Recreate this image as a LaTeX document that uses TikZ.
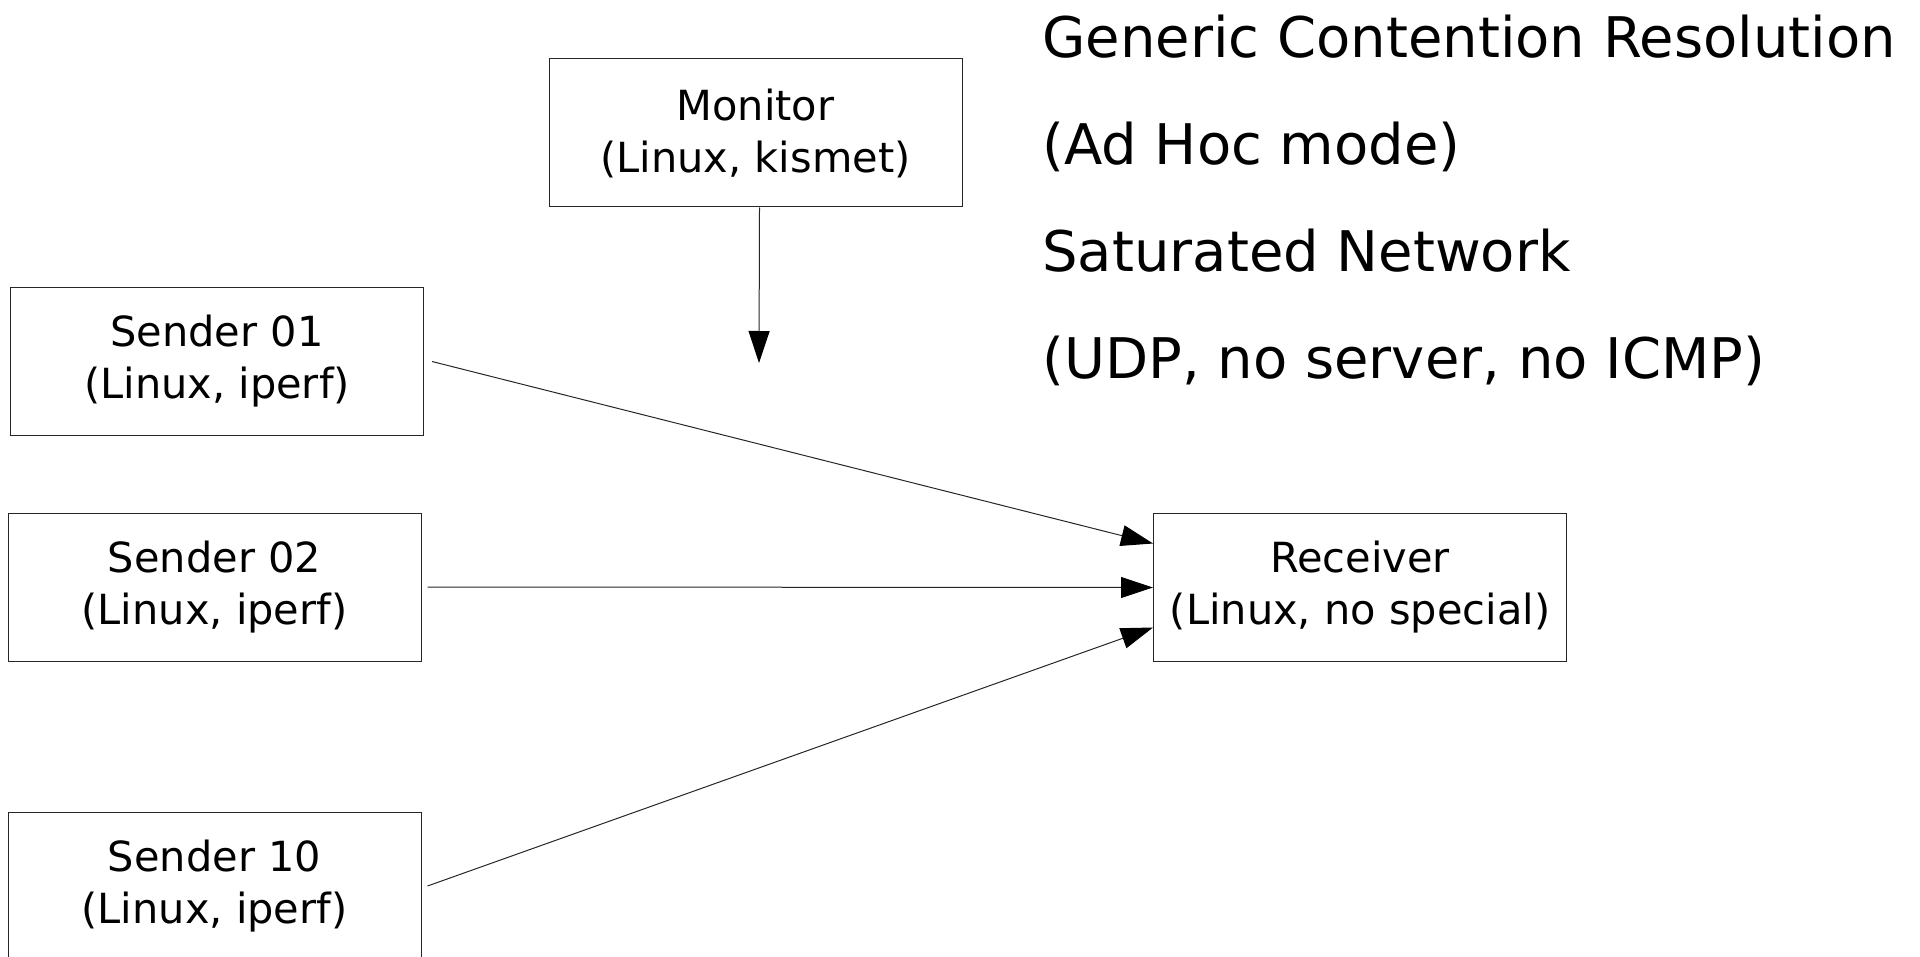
\documentclass[tikz,border=0pt]{standalone}
\usepackage{fontspec}
\setmainfont{DejaVu Sans}
\usetikzlibrary{arrows.meta}

\tikzset{
  box/.style={draw=black!85, line width=0.5pt, minimum width=206.5pt, minimum height=74pt,
    align=center, inner sep=0pt, font=\fontsize{20.75pt}{26pt}\selectfont},
  head/.style={anchor=base west, inner sep=0pt, font=\fontsize{28pt}{34pt}\selectfont},
  link/.style={draw=black!85, line width=0.5pt, -{Triangle[length=16pt,width=10.5pt,fill=black,color=black]}}
}

\begin{document}
\begin{tikzpicture}[x=0.5pt, y=-0.5pt]

        \useasboundingbox (0,0) rectangle (1920,957);

        \begin{scope}[every node/.style={box}]
          \node (m)   at (755.5,133)  {Monitor\\(Linux, kismet)};
          \node (s01) at (217,361.5)  {Sender 01\\(Linux, iperf)};
          \node (s02) at (214.5,587)  {Sender 02\\(Linux, iperf)};
          \node (s10) at (214.5,886)  {Sender 10\\(Linux, iperf)};
          \node (r)   at (1360,587.5) {Receiver\\(Linux, no special)};
        \end{scope}

        \coordinate (mb) at (759,363);

        \begin{scope}[every node/.style={head}]
          \node (t1) at (1042,58)  {Generic Contention Resolution};
          \node (t2) at (1042,165) {(Ad Hoc mode)};
          \node (t3) at (1042,271) {Saturated Network};
          \node (t4) at (1042,378) {(UDP, no server, no ICMP)};
        \end{scope}

        \begin{scope}[every edge/.style={link}]
          \path ([xshift=2pt]m.south) edge (mb);
          \path ([xshift=4pt]s01.east) edge ([yshift=22pt]r.west);
          \path ([xshift=3pt]s02.east) edge (r.west);
          \path ([xshift=3pt]s10.east) edge ([yshift=-20pt]r.west);
        \end{scope}

      \end{tikzpicture}
\end{document}
